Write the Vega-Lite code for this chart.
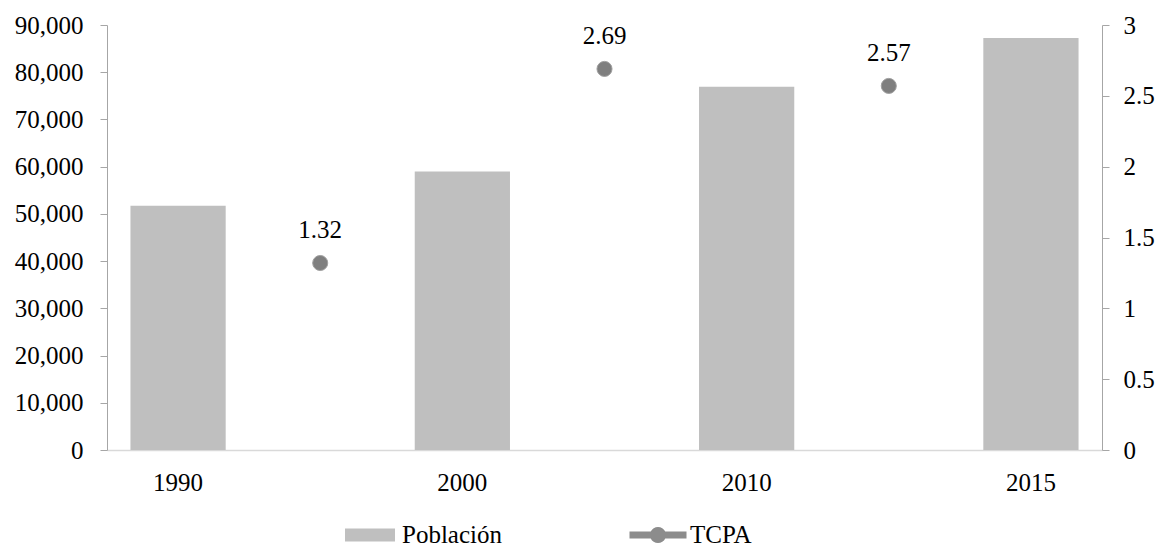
{
  "$schema": "https://vega.github.io/schema/vega-lite/v6.json",
  "width": 995,
  "height": 425,
  "autosize": {"type": "none"},
  "padding": {"left": 107, "top": 25, "right": 59, "bottom": 98},
  "config": {
    "font": "Liberation Serif",
    "view": {"stroke": null},
    "text": {"font": "Liberation Serif"},
    "axis": {"labelFont": "Liberation Serif", "labelFontSize": 25, "labelColor": "#000000", "grid": false, "title": null},
    "legend": {"labelFont": "Liberation Serif"}
  },
  "datasets": {
    "pob": [
      {"cat": "1990", "poblacion": 51700},
      {"cat": "2000", "poblacion": 59000},
      {"cat": "2010", "poblacion": 76900},
      {"cat": "2015", "poblacion": 87250}
    ],
    "tcpa": [
      {"cat": "1990-2000", "tcpa": 1.32, "serie": "TCPA"},
      {"cat": "2000-2010", "tcpa": 2.69, "serie": "TCPA"},
      {"cat": "2010-2015", "tcpa": 2.57, "serie": "TCPA"}
    ]
  },
  "encoding": {
    "x": {
      "field": "cat",
      "type": "nominal",
      "scale": {"type": "band", "domain": ["1990", "1990-2000", "2000", "2000-2010", "2010", "2010-2015", "2015"], "paddingInner": 0, "paddingOuter": 0},
      "axis": {"labelExpr": "length(datum.value) == 4 ? datum.value : ''", "ticks": false, "domainColor": "#d9d9d9", "domainWidth": 1.5, "labelAngle": 0, "labelPadding": 20, "labelFont": "Liberation Serif"}
    }
  },
  "layer": [
    {
      "data": {"name": "pob"},
      "mark": {"type": "bar", "color": "#bfbfbf", "width": {"band": 0.67}},
      "encoding": {
        "y": {
          "field": "poblacion",
          "type": "quantitative",
          "scale": {"domain": [0, 90000], "nice": false},
          "axis": {"orient": "left", "values": [0, 10000, 20000, 30000, 40000, 50000, 60000, 70000, 80000, 90000], "labelExpr": "format(datum.value, ',')", "labelFont": "Liberation Serif", "tickSize": 7, "tickColor": "#a6a6a6", "domainColor": "#a6a6a6", "labelPadding": 17}
        }
      }
    },
    {
      "data": {"name": "tcpa"},
      "encoding": {
        "y": {
          "field": "tcpa",
          "type": "quantitative",
          "scale": {"domain": [0, 3], "nice": false},
          "axis": {"orient": "right", "values": [0, 0.5, 1, 1.5, 2, 2.5, 3], "labelExpr": "format(datum.value, '~g')", "labelFont": "Liberation Serif", "tickSize": 7, "tickColor": "#a6a6a6", "domainColor": "#a6a6a6", "labelPadding": 14}
        }
      },
      "layer": [
        {
          "transform": [{"filter": "false"}],
          "mark": {"type": "point", "filled": true, "opacity": 1},
          "encoding": {
            "color": {
              "field": "serie",
              "type": "nominal",
              "scale": {"domain": ["Población", "TCPA"], "range": ["#bfbfbf", "#8c8c8c"]},
              "legend": {
                "orient": "none",
                "legendX": 238,
                "legendY": 485,
                "direction": "horizontal",
                "title": null,
                "symbolSize": 2500,
                "symbolStrokeWidth": 0,
                "symbolOpacity": 1,
                "labelFontSize": 25,
                "labelFont": "Liberation Serif",
                "labelColor": "#000000",
                "labelLimit": 300,
                "columnPadding": 127,
                "labelOffset": 7,
                "padding": 0
              }
            },
            "shape": {
              "field": "serie",
              "type": "nominal",
              "scale": {
                "domain": ["Población", "TCPA"],
                "range": ["M-1,-0.26H1V0.26H-1Z", "M-1.14,-0.14H-0.29A0.32,0.32 0 0 1 0.29,-0.14H1.14V0.14H0.29A0.32,0.32 0 0 1 -0.29,0.14H-1.14Z"]
              }
            }
          }
        },
        {
          "mark": {"type": "point", "shape": "circle", "filled": true, "size": 227, "color": "#7f7f7f", "stroke": "#a0a0a0", "strokeWidth": 1, "opacity": 1}
        },
        {
          "mark": {"type": "text", "dy": -33, "fontSize": 25, "font": "Liberation Serif", "color": "#000000"},
          "encoding": {"text": {"field": "tcpa", "type": "quantitative", "format": ".2f"}}
        }
      ]
    }
  ],
  "resolve": {"scale": {"y": "independent"}}
}
